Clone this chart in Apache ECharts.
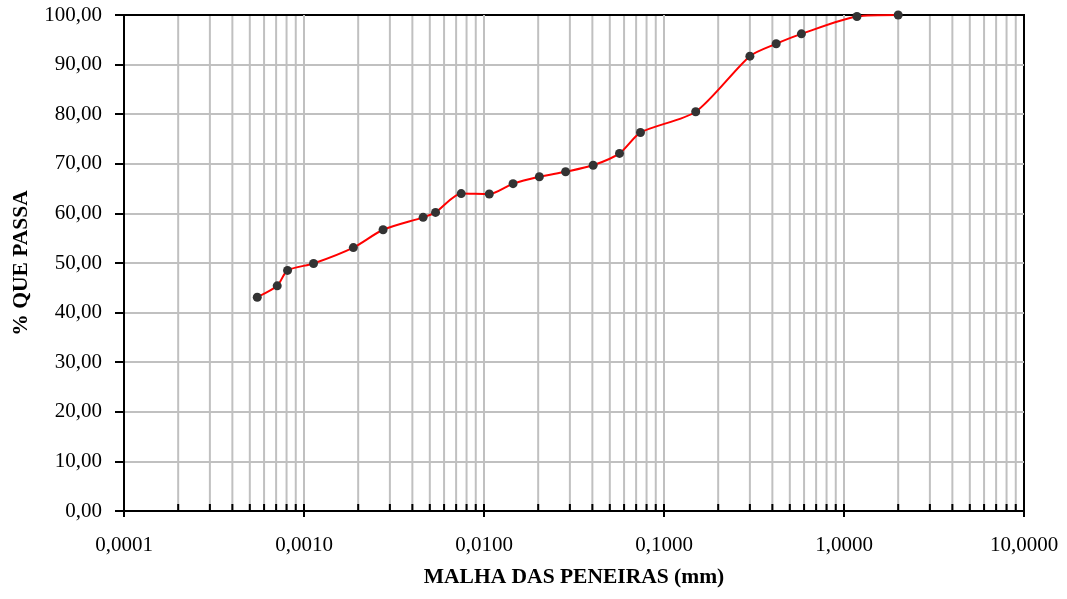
<!DOCTYPE html>
<html>
<head>
<meta charset="utf-8">
<script src="https://cdn.jsdelivr.net/npm/echarts@6/dist/echarts.min.js"></script>
<style>
  html, body { margin: 0; padding: 0; background: #fff; }
  #chart { width: 1067px; height: 599px; }
</style>
</head>
<body>
<div id="chart"></div>
<script>
// Sieve opening (mm) and percent passing
const sizes = [0.00055, 0.00071, 0.00081, 0.00113, 0.00188, 0.00275, 0.00459, 0.00538, 0.00747, 0.0107,
               0.0145, 0.0203, 0.0284, 0.0404, 0.0566, 0.074, 0.15, 0.30, 0.42, 0.58, 1.18, 2.0];
const passing = [43.1, 45.4, 48.5, 49.9, 53.1, 56.7, 59.2, 60.2, 64.0, 63.9,
                 66.0, 67.4, 68.4, 69.7, 72.1, 76.3, 80.5, 91.7, 94.2, 96.2, 99.7, 100.0];

// Axis setup
const xMin = 0.0001, xMax = 10;
const yMin = 0, yMax = 100, yStep = 10;
const decadeExps = [-4, -3, -2, -1, 0];
const minorMultipliers = [2, 3, 4, 5, 6, 7, 8, 9];

const FONT = '"Liberation Serif", "Times New Roman", serif';

// Minor log grid positions (flag 1 = minor line + tick, 0 = inner tick at decade)
const gridMarks = [];
decadeExps.forEach(function (e) {
  minorMultipliers.forEach(function (m) {
    gridMarks.push([parseFloat((m * Math.pow(10, e)).toPrecision(3)), 1]);
  });
  if (e > -4) gridMarks.push([parseFloat(Math.pow(10, e).toPrecision(3)), 0]);
});

const chart = echarts.init(document.getElementById('chart'), null, { renderer: 'canvas' });

chart.setOption({
  animation: false,
  backgroundColor: '#ffffff',
  grid: {
    left: 124, right: 43, top: 15, bottom: 88,
    show: true, borderColor: '#000', borderWidth: 2, backgroundColor: 'transparent'
  },
  xAxis: {
    type: 'log',
    logBase: 10,
    min: xMin, max: xMax,
    splitNumber: 5,
    name: 'MALHA DAS PENEIRAS (mm)',
    nameLocation: 'middle',
    nameGap: 55,
    nameTextStyle: { fontFamily: FONT, fontSize: 21.5, fontWeight: 'bold', color: '#000' },
    axisLine: { show: true, lineStyle: { color: '#000', width: 2 } },
    axisTick: { show: true, inside: false, length: 6, lineStyle: { color: '#000', width: 2 } },
    axisLabel: {
      fontFamily: FONT, fontSize: 21, color: '#000', margin: 24,
      formatter: function (v) { return Number(v).toFixed(4).replace('.', ','); }
    },
    splitLine: { show: true, showMinLine: false, showMaxLine: false, lineStyle: { color: '#c0c0c0', width: 2 } },
    minorTick: { show: false },
    minorSplitLine: { show: false }
  },
  yAxis: {
    type: 'value',
    min: yMin, max: yMax, interval: yStep,
    name: '% QUE PASSA',
    nameLocation: 'middle',
    nameGap: 92,
    nameTextStyle: { fontFamily: FONT, fontSize: 21.5, fontWeight: 'bold', color: '#000' },
    axisLine: { show: true, lineStyle: { color: '#000', width: 2 } },
    axisTick: { show: true, inside: false, length: 9, lineStyle: { color: '#000', width: 2 } },
    axisLabel: {
      fontFamily: FONT, fontSize: 21, color: '#000', margin: 22,
      formatter: function (v) { return Number(v).toFixed(2).replace('.', ','); }
    },
    splitLine: { show: true, showMinLine: false, showMaxLine: false, lineStyle: { color: '#c0c0c0', width: 2 } }
  },
  series: [
    {
      type: 'custom',
      silent: true,
      z: 1,
      data: gridMarks,
      encode: { x: 0, y: 1 },
      renderItem: function (params, api) {
        const v = api.value(0);
        const pt = api.coord([v, 0]);
        const cs = params.coordSys;
        const x = pt[0];
        const bottom = cs.y + cs.height;
        const children = [];
        if (api.value(1) === 1) {
          children.push({
            type: 'line',
            shape: { x1: x, y1: cs.y + 1, x2: x, y2: bottom - 1 },
            style: { stroke: '#c0c0c0', lineWidth: 2 }
          });
        }
        children.push({
          type: 'line',
          shape: { x1: x, y1: bottom, x2: x, y2: bottom - 7 },
          style: { stroke: '#000', lineWidth: 2 }
        });
        return { type: 'group', children: children };
      }
    },
    {
      type: 'line',
      z: 5,
      data: sizes.map(function (s, i) { return [s, passing[i]]; }),
      smooth: 0.25,
      clip: false,
      symbol: 'circle',
      symbolSize: 9,
      showSymbol: true,
      lineStyle: { color: '#ff0000', width: 2 },
      itemStyle: { color: '#333333', borderWidth: 0 }
    }
  ]
});
</script>
</body>
</html>
